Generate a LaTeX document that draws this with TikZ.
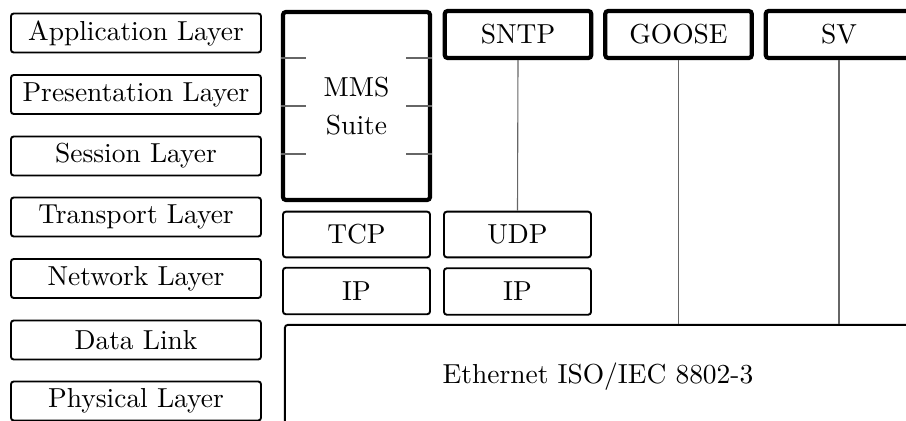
\documentclass[tikz,border=0pt]{standalone}
\begin{document}
\begin{tikzpicture}[x=0.364pt,y=-0.364pt,
  layer/.style={draw, line width=0.7pt, rounded corners=1pt, inner sep=0pt,
    minimum width=91pt, minimum height=14.2pt},
  proto/.style={draw, line width=0.7pt, rounded corners=1pt, inner sep=0pt,
    minimum width=53.5pt, minimum height=16.6pt},
  app/.style={draw, line width=1.5pt, rounded corners=1pt, inner sep=0pt,
    minimum width=53.3pt, minimum height=17.1pt},
  link/.style={draw=black!60, line width=0.4pt},
  tick/.style={draw=black!60, line width=0.5pt}]
  \path[use as bounding box, clip] (0,0) rectangle (906,421);

  % OSI reference layers
  \node[layer] (l7) at (136,33)    {Application Layer};
  \node[layer] (l6) at (136,94.5)  {Presentation Layer};
  \node[layer] (l5) at (136,156)   {Session Layer};
  \node[layer] (l4) at (136,217)   {Transport Layer};
  \node[layer] (l3) at (136,278.5) {Network Layer};
  \node[layer] (l2) at (136,340)   {Data Link};
  \node[layer] (l1) at (136,401)   {Physical Layer};

  % MMS suite spanning the three upper layers
  \node[draw, line width=1.5pt, rounded corners=1pt, inner sep=0pt,
        minimum width=53.5pt, minimum height=68.4pt, align=center]
        (mms) at (356.5,106) {MMS\\[1.8pt]Suite};
  \foreach \yy in {58,106,154} {
    \draw[tick] (mms.west |- 0,\yy) -- ++(25,0);
    \draw[tick] (mms.east |- 0,\yy) -- ++(-26,0);
  }

  % application protocols
  \node[app] (sntp)  at (518,34.5)   {SNTP};
  \node[app] (goose) at (678.5,34.5) {GOOSE};
  \node[app] (sv)    at (839,34.5)   {SV};

  % transport and network
  \node[proto] (tcp) at (356.5,234.5) {TCP};
  \node[proto] (udp) at (517.5,234.5) {UDP};
  \node[proto, minimum height=16.9pt] (ip1) at (356.5,291) {IP};
  \node[proto, minimum height=16.9pt] (ip2) at (517.5,291.5) {IP};

  % link layer
  \node[draw, line width=0.7pt, rounded corners=1pt, inner sep=0pt,
        minimum width=227.9pt, minimum height=37.9pt]
        (eth) at (598,377) {Ethernet ISO/IEC 8802-3};

  % mappings
  \draw[link] (sntp.south) -- (udp.north);
  \draw[link] (goose.south) -- (goose.south |- eth.north);
  \draw[link] (sv.south) -- (sv.south |- eth.north);
\end{tikzpicture}
\end{document}
